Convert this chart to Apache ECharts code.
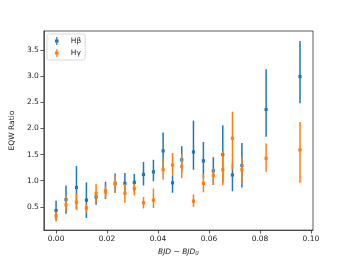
<!DOCTYPE html>
<html>
<head>
<meta charset="utf-8">
<script src="https://cdn.jsdelivr.net/npm/echarts@6/dist/echarts.min.js"></script>
<style>html,body{margin:0;padding:0;background:#fff;}#c{width:349px;height:262px;}</style>
</head>
<body>
<div id="c"></div>
<script>
const xVals = [0.0000, 0.0039, 0.0080, 0.0119, 0.0157, 0.0194, 0.0232, 0.0270, 0.0307, 0.0343, 0.0382, 0.0420, 0.0457, 0.0493, 0.0539, 0.0578, 0.0617, 0.0654, 0.0692, 0.0729, 0.0824, 0.0957];
const hbVal = [0.43, 0.64, 0.87, 0.63, 0.69, 0.80, 0.95, 0.95, 0.97, 1.12, 1.17, 1.57, 0.96, 1.40, 1.55, 1.38, 1.19, 1.50, 1.11, 1.29, 2.36, 2.99];
const hbLo  = [0.25, 0.37, 0.46, 0.29, 0.54, 0.65, 0.77, 0.77, 0.80, 0.91, 0.99, 1.24, 0.77, 1.16, 1.21, 1.04, 0.92, 0.96, 0.80, 0.87, 1.84, 2.48];
const hbHi  = [0.62, 0.91, 1.28, 0.97, 0.75, 0.98, 1.14, 1.15, 1.13, 1.36, 1.40, 1.92, 1.09, 1.66, 2.15, 1.74, 1.45, 2.06, 1.33, 1.72, 3.13, 3.67];
const hgVal = [0.33, 0.54, 0.59, 0.48, 0.76, 0.79, 0.94, 0.76, 0.85, 0.58, 0.63, 1.21, 1.30, 1.27, 0.61, 0.95, 1.10, 1.21, 1.81, 1.21, 1.43, 1.59];
const hgLo  = [0.22, 0.42, 0.44, 0.39, 0.59, 0.66, 0.77, 0.58, 0.72, 0.47, 0.48, 1.02, 1.09, 1.05, 0.50, 0.78, 0.92, 0.92, 1.21, 0.94, 1.17, 0.96];
const hgHi  = [0.41, 0.71, 0.75, 0.55, 0.94, 0.91, 1.10, 0.94, 0.94, 0.69, 0.85, 1.41, 1.53, 1.51, 0.74, 1.13, 1.23, 1.57, 2.32, 1.45, 1.71, 2.12];
const xTicks = [0.00, 0.02, 0.04, 0.06, 0.08, 0.10];
const yTicks = [0.5, 1.0, 1.5, 2.0, 2.5, 3.0, 3.5];
const seriesNames = ['Hβ', 'Hγ'];
const colors = ['#1f77b4', '#ff7f0e'];

const FONT = 'DejaVu Sans';

function makeErr(name, color, vals, lo, hi) {
  const data = xVals.map((x, i) => [x, vals[i], lo[i], hi[i]]);
  return {
    type: 'custom',
    name: name,
    data: data,
    itemStyle: { color: color },
    encode: { x: 0, y: [1, 2, 3] },
    clip: false,
    renderItem: function (params, api) {
      const x = api.value(0);
      const c = api.coord([x, api.value(1)]);
      const l = api.coord([x, api.value(2)]);
      const h = api.coord([x, api.value(3)]);
      return {
        type: 'group',
        children: [
          { type: 'line', shape: { x1: c[0], y1: l[1], x2: c[0], y2: h[1] },
            style: { stroke: color, lineWidth: 1.5 } },
          { type: 'rect', shape: { x: c[0] - 1.6, y: c[1] - 1.6, width: 3.2, height: 3.2 },
            style: { fill: color } }
        ]
      };
    }
  };
}

const legendIcon = 'path://M1.9,0 L3.1,0 L3.1,2.6 L4.3,2.6 L4.3,5.4 L3.1,5.4 L3.1,8 L1.9,8 L1.9,5.4 L0.7,5.4 L0.7,2.6 L1.9,2.6 Z';

const chart = echarts.init(document.getElementById('c'), null, { renderer: 'canvas' });
chart.setOption({
  animation: false,
  backgroundColor: '#fff',
  textStyle: { fontFamily: FONT },
  grid: { left: 43, top: 31, right: 36, bottom: 30, show: true, borderColor: '#333', borderWidth: 0.8, backgroundColor: 'transparent' },
  legend: {
    left: 47, top: 34, orient: 'vertical',
    padding: [3, 4, 3, 8],
    itemWidth: 4, itemHeight: 8, itemGap: 4,
    backgroundColor: '#fff',
    borderColor: '#d0d0d0', borderWidth: 0.8, borderRadius: 2,
    textStyle: { fontFamily: FONT, fontSize: 7.5, color: '#222', padding: [0, 0, 0, 7] },
    data: seriesNames.map(n => ({ name: n, icon: legendIcon }))
  },
  xAxis: {
    type: 'value', min: -0.0048, max: 0.1008,
    name: '{i|BJD − BJD}{s|0}', nameLocation: 'middle', nameGap: 14,
    nameTextStyle: { rich: {
      i: { fontFamily: FONT, fontStyle: 'italic', fontSize: 7.5, color: '#222' },
      s: { fontFamily: FONT, fontStyle: 'italic', fontSize: 5.5, color: '#222', padding: [4, 0, 0, 0] }
    } },
    splitLine: { show: false },
    axisLine: { show: true, onZero: false, lineStyle: { color: '#333', width: 0.8 } },
    axisTick: { show: true, length: 3.5, lineStyle: { color: '#333', width: 0.8 }, customValues: xTicks },
    axisLabel: { fontFamily: FONT, fontSize: 7.5, color: '#222', margin: 5, customValues: xTicks,
      formatter: v => v.toFixed(2) }
  },
  yAxis: {
    type: 'value', min: 0.057, max: 3.86,
    name: 'EQW Ratio', nameLocation: 'middle', nameGap: 17, nameRotate: 90,
    nameTextStyle: { fontFamily: FONT, fontSize: 7.5, color: '#222' },
    splitLine: { show: false },
    axisLine: { show: true, onZero: false, lineStyle: { color: '#333', width: 0.8 } },
    axisTick: { show: true, length: 3.5, lineStyle: { color: '#333', width: 0.8 }, customValues: yTicks },
    axisLabel: { fontFamily: FONT, fontSize: 7.5, color: '#222', margin: 5, customValues: yTicks,
      formatter: v => v.toFixed(1) }
  },
  series: [
    makeErr(seriesNames[0], colors[0], hbVal, hbLo, hbHi),
    makeErr(seriesNames[1], colors[1], hgVal, hgLo, hgHi)
  ]
});
</script>
</body>
</html>
